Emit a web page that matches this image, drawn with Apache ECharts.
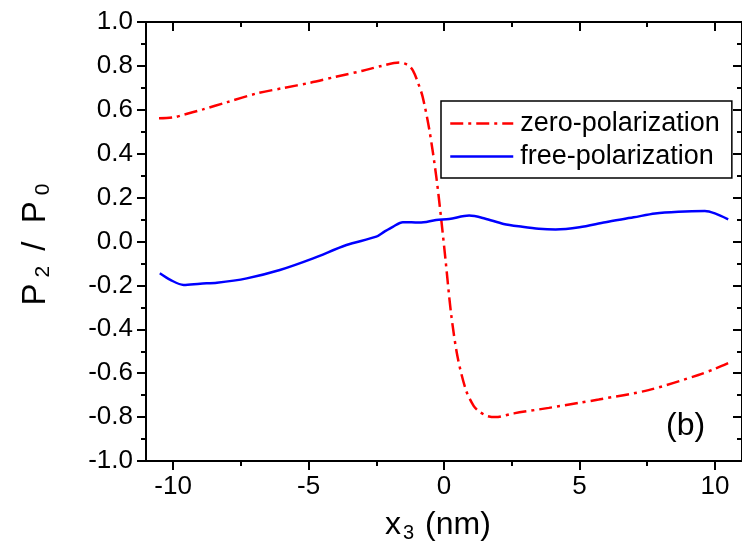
<!DOCTYPE html>
<html><head><meta charset="utf-8">
<script src="https://cdn.jsdelivr.net/npm/echarts@6/dist/echarts.min.js"></script>
<style>html,body{margin:0;padding:0;background:#fff}#c{width:742px;height:555px}</style>
</head><body><div id="c"></div>
<script>
const zeroX = [-10.52,-10.0,-9.6,-8.9,-8.0,-6.9,-5.9,-4.95,-4.0,-3.0,-2.3,-1.64,-1.35,-1.15,-0.95,-0.79,-0.54,-0.29,-0.11,0.07,0.26,0.5,0.81,1.1,1.3,1.6,1.91,2.58,3.87,5.0,5.71,7.55,9.39,10.0,10.49];
const zeroY = [0.561,0.565,0.578,0.602,0.635,0.675,0.70,0.723,0.75,0.778,0.80,0.815,0.805,0.78,0.72,0.66,0.508,0.30,0.11,-0.10,-0.327,-0.525,-0.677,-0.75,-0.775,-0.795,-0.80,-0.783,-0.758,-0.735,-0.72,-0.677,-0.608,-0.58,-0.554];
const freeX = [-10.49,-10.1,-9.61,-9.0,-8.38,-7.28,-6.06,-4.83,-3.6,-2.5,-2.2,-1.89,-1.52,-1.2,-0.91,-0.29,0.19,0.93,1.5,2.2,2.89,3.5,4.12,5.0,5.96,7.0,7.79,8.65,9.63,10.0,10.49];
const freeY = [-0.145,-0.175,-0.198,-0.192,-0.188,-0.168,-0.13,-0.077,-0.016,0.022,0.045,0.067,0.088,0.088,0.086,0.098,0.102,0.118,0.105,0.08,0.067,0.058,0.055,0.065,0.088,0.11,0.128,0.136,0.139,0.128,0.101];
const xMajor = [-10,-5,0,5,10];
const xMinor = [-7.5,-2.5,2.5,7.5];
const seriesNames = ['zero-polarization','free-polarization'];

const FONT = 'Liberation Sans, Arial, sans-serif';
const pair = (xs, ys) => xs.map((x,i)=>[x, ys[i]]);
const chart = echarts.init(document.getElementById('c'), null, {renderer:'canvas'});
const axLine = {show:true, onZero:false, lineStyle:{color:'#000', width:2}};
const xRich = {a:{fontSize:32,fontFamily:FONT,color:'#000'}, s:{fontSize:20,fontFamily:FONT,color:'#000',padding:[16,2,0,2]}};
const yRich = {a:{fontSize:33,fontFamily:FONT,color:'#000'}, s:{fontSize:21,fontFamily:FONT,color:'#000',padding:[16,6,0,6]}};
function xAx(pos, vals, len, inside, labels, showLine, name){
  return {type:'value', position:pos, min:-11, max:11,
    axisLine: showLine ? axLine : {show:false, onZero:false},
    axisTick:{show:true, customValues:vals, length:len, inside:inside, lineStyle:{color:'#000', width:2}},
    axisLabel: labels ? {show:true, customValues:vals, fontSize:26, fontFamily:FONT, color:'#000', margin:13,
      formatter:v=>String(v)} : {show:false},
    splitLine:{show:false},
    name: name || '', nameLocation:'middle', nameGap:46,
    nameTextStyle:{rich:xRich, padding:[0,12,0,0]}
  };
}
chart.setOption({
  animation:false,
  grid:{left:146, top:22, width:598, height:439, containLabel:false},
  xAxis:[
    xAx('bottom', xMajor, 9, false, true, true, '{a|x}{s|3}{a| (nm)}'),
    xAx('bottom', xMinor, 5, false, false, false),
    xAx('top', xMajor, 9, true, false, true),
    xAx('top', xMinor, 5, true, false, false)
  ],
  yAxis:[
    {type:'value', position:'left', min:-1, max:1, interval:0.2,
      axisLine:axLine,
      axisTick:{show:true, length:9, lineStyle:{color:'#000', width:2}},
      minorTick:{show:true, splitNumber:2, length:5, lineStyle:{color:'#000', width:2}},
      axisLabel:{fontSize:26, fontFamily:FONT, color:'#000', margin:13, formatter:v=>v.toFixed(1)},
      splitLine:{show:false},
      name:'{a|P}{s|2}{a| /  P}{s|0}', nameLocation:'middle', nameGap:92, nameRotate:90,
      nameTextStyle:{rich:yRich}
    },
    {type:'value', position:'right', min:-1, max:1, interval:0.2,
      axisLine:axLine,
      axisTick:{show:true, inside:true, length:9, lineStyle:{color:'#000', width:2}},
      minorTick:{show:true, splitNumber:2, length:5, lineStyle:{color:'#000', width:2}},
      axisLabel:{show:false}, splitLine:{show:false}}
  ],
  legend:{orient:'vertical', left:441, top:101, padding:[9,12,8,8], itemGap:6,
    itemWidth:63, itemHeight:14, borderColor:'#000', borderWidth:1.5,
    itemStyle:{opacity:0}, lineStyle:{width:2.5},
    textStyle:{fontSize:27, fontFamily:FONT, color:'#000', padding:[0,0,0,2]},
    data:seriesNames},
  graphic:[{type:'text', left:666, top:410, style:{text:'(b)', fontSize:32, fontFamily:FONT, fill:'#000'}}],
  series:[
    {name:seriesNames[0], type:'line', xAxisIndex:0, yAxisIndex:0, data:pair(zeroX, zeroY), showSymbol:false, symbol:'none', smooth:0.3,
      lineStyle:{color:'#ff0000', width:2.5, type:[13,5,3,5]}, itemStyle:{color:'#ff0000'}},
    {name:seriesNames[1], type:'line', xAxisIndex:0, yAxisIndex:0, data:pair(freeX, freeY), showSymbol:false, symbol:'none', smooth:0.3,
      lineStyle:{color:'#0000ff', width:2.5}, itemStyle:{color:'#0000ff'}}
  ]
});
</script></body></html>
